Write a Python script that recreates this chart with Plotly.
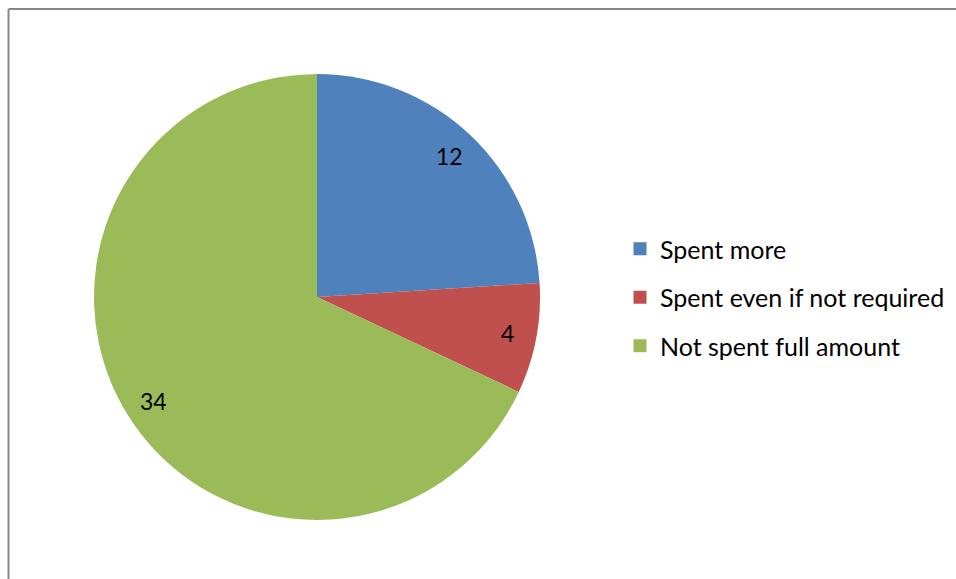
import math
import plotly.graph_objects as go

labels = ["Spent more", "Spent even if not required", "Not spent full amount"]
values = [12, 4, 34]
colors = ["#4F81BD", "#C0504D", "#9BBB59"]

W, H = 956, 579
FONT = "Lato, Calibri, Carlito, sans-serif"

# pie geometry (pixels)
cx, cy, R = 317, 297, 223
dom_x = [(cx - R) / W, (cx + R) / W]
dom_y = [(H - (cy + R)) / H, (H - (cy - R)) / H]

fig = go.Figure()
fig.add_trace(go.Pie(
    labels=labels, values=values, sort=False, direction="clockwise", rotation=0,
    marker=dict(colors=colors, line=dict(width=0)),
    textinfo="none", hoverinfo="label+value", showlegend=False,
    domain=dict(x=dom_x, y=dom_y),
))

# data labels placed along each slice's mid-angle
total = sum(values)
cum = 0
annotations = []
for v in values:
    mid = (cum + v / 2) / total * 2 * math.pi
    cum += v
    r = 0.87 * R
    px = cx + r * math.sin(mid)
    py = cy - r * math.cos(mid)
    annotations.append(dict(x=px / W, y=1 - py / H, xref="paper", yref="paper",
                            xanchor="center", yanchor="middle",
                            text=str(v), showarrow=False,
                            font=dict(family=FONT, size=23, color="black")))

# legend entries
for lab, col in zip(labels, colors):
    fig.add_trace(go.Scatter(x=[None], y=[None], mode="markers", name=lab,
                             legendgroup=lab,
                             marker=dict(symbol="square", size=13, color=col)))

fig.update_layout(
    width=W, height=H,
    margin=dict(l=0, r=0, t=0, b=0),
    paper_bgcolor="white", plot_bgcolor="white",
    xaxis=dict(visible=False), yaxis=dict(visible=False),
    annotations=annotations,
    legend=dict(x=620 / W, y=1 - 226 / H, xanchor="left", yanchor="top",
                font=dict(family=FONT, size=25, color="black"),
                tracegroupgap=13, bgcolor="rgba(0,0,0,0)"),
    shapes=[
        dict(type="line", xref="paper", yref="paper", x0=8.5 / W, x1=1, y0=1 - 9 / H, y1=1 - 9 / H,
             line=dict(color="#868686", width=2)),
        dict(type="line", xref="paper", yref="paper", x0=8.5 / W, x1=8.5 / W, y0=0, y1=1 - 9 / H,
             line=dict(color="#868686", width=2)),
    ],
)

fig.write_html("out.html")
